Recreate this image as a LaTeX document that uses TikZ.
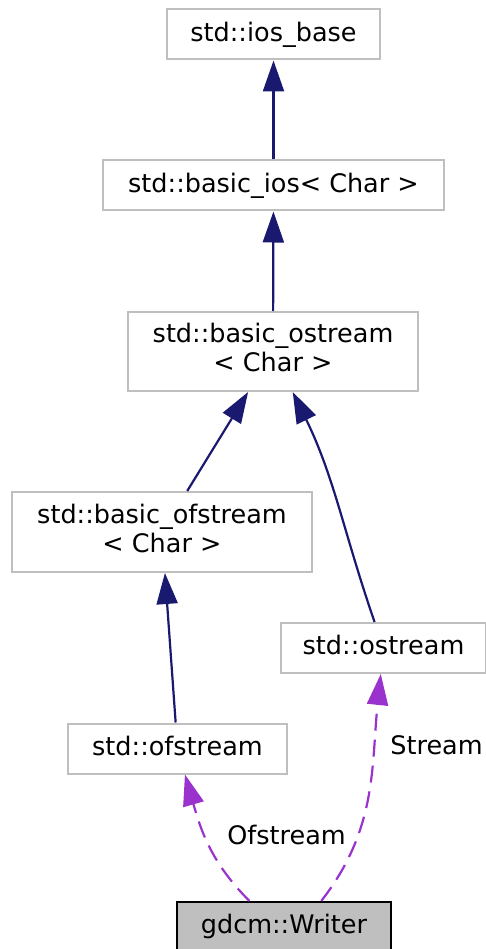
\documentclass[tikz,border=0pt]{standalone}
\usepackage{fontspec}
\setmainfont{DejaVu Sans}
\usepackage{tikz}
\usetikzlibrary{arrows.meta}
\usepackage{xcolor}

\definecolor{gris}{HTML}{BFBFBF}
\definecolor{azul}{HTML}{191970}
\definecolor{violeta}{HTML}{9A32CD}

\begin{document}
\begin{tikzpicture}[
	x=1pt, y=-1pt,
	font=\fontsize{25.5}{29}\selectfont,
	clase/.style={
		draw=gris,
		line width=2pt,
		fill=white,
		inner sep=0pt,
		align=center,
		minimum height=50pt
	},
	unalinea/.style={text height=19.5pt, text depth=6pt},
	actual/.style={clase, draw=black, fill=gris, line width=2.2pt},
	hereda/.style={draw=azul, line width=2.2pt, -{Triangle[length=31pt,width=21pt]}},
	usa/.style={draw=violeta, line width=2.2pt, dash pattern=on 17pt off 9pt, -{Triangle[length=31pt,width=21pt]}},
	etiqueta/.style={inner sep=0pt, text height=19.5pt, text depth=6pt}
	]
	
	\useasboundingbox (0,0) rectangle (486,949);
	
	% Clases
	\node[clase, unalinea, minimum width=213pt] (iosbase) at (273.5,34.5) {std::ios\_base};
	\node[clase, unalinea, minimum width=341pt] (basicios) at (273.5,185.5) {std::basic\_ios< Char >};
	\node[clase, minimum width=290pt, minimum height=79pt] (bostream) at (273,351.5) {\strut std::basic\_ostream\\\strut < Char >};
	\node[clase, minimum width=300pt, minimum height=80pt] (bofstream) at (162,532) {\strut std::basic\_ofstream\\\strut < Char >};
	\node[clase, unalinea, minimum width=205pt] (ostream) at (383.5,648) {std::ostream};
	\node[clase, unalinea, minimum width=219pt] (ofstream) at (177.5,748.5) {std::ofstream};
	\node[actual, unalinea, minimum width=214pt] (writer) at (284,927) {gdcm::Writer};
	
	% Herencia
	\draw[hereda] (basicios) -- (iosbase);
	\draw[hereda] (bostream) -- (basicios);
	\draw[hereda] (bofstream) -- (bostream);
	\draw[hereda] (ostream) to[out=109, in=-64] (bostream);
	\draw[hereda] (ofstream) -- (bofstream);
	
	% Relaciones de uso
	\draw[usa] (writer.143) to[out=135, in=-74] (ofstream);
	\draw[usa] (writer.35) to[out=52, in=-96] (ostream);
	
	% Etiquetas
	\node[etiqueta] (lofstream) at (286.5,838) {Ofstream};
	\node[etiqueta] (lstream) at (436.5,748) {Stream};
	
\end{tikzpicture}
\end{document}
